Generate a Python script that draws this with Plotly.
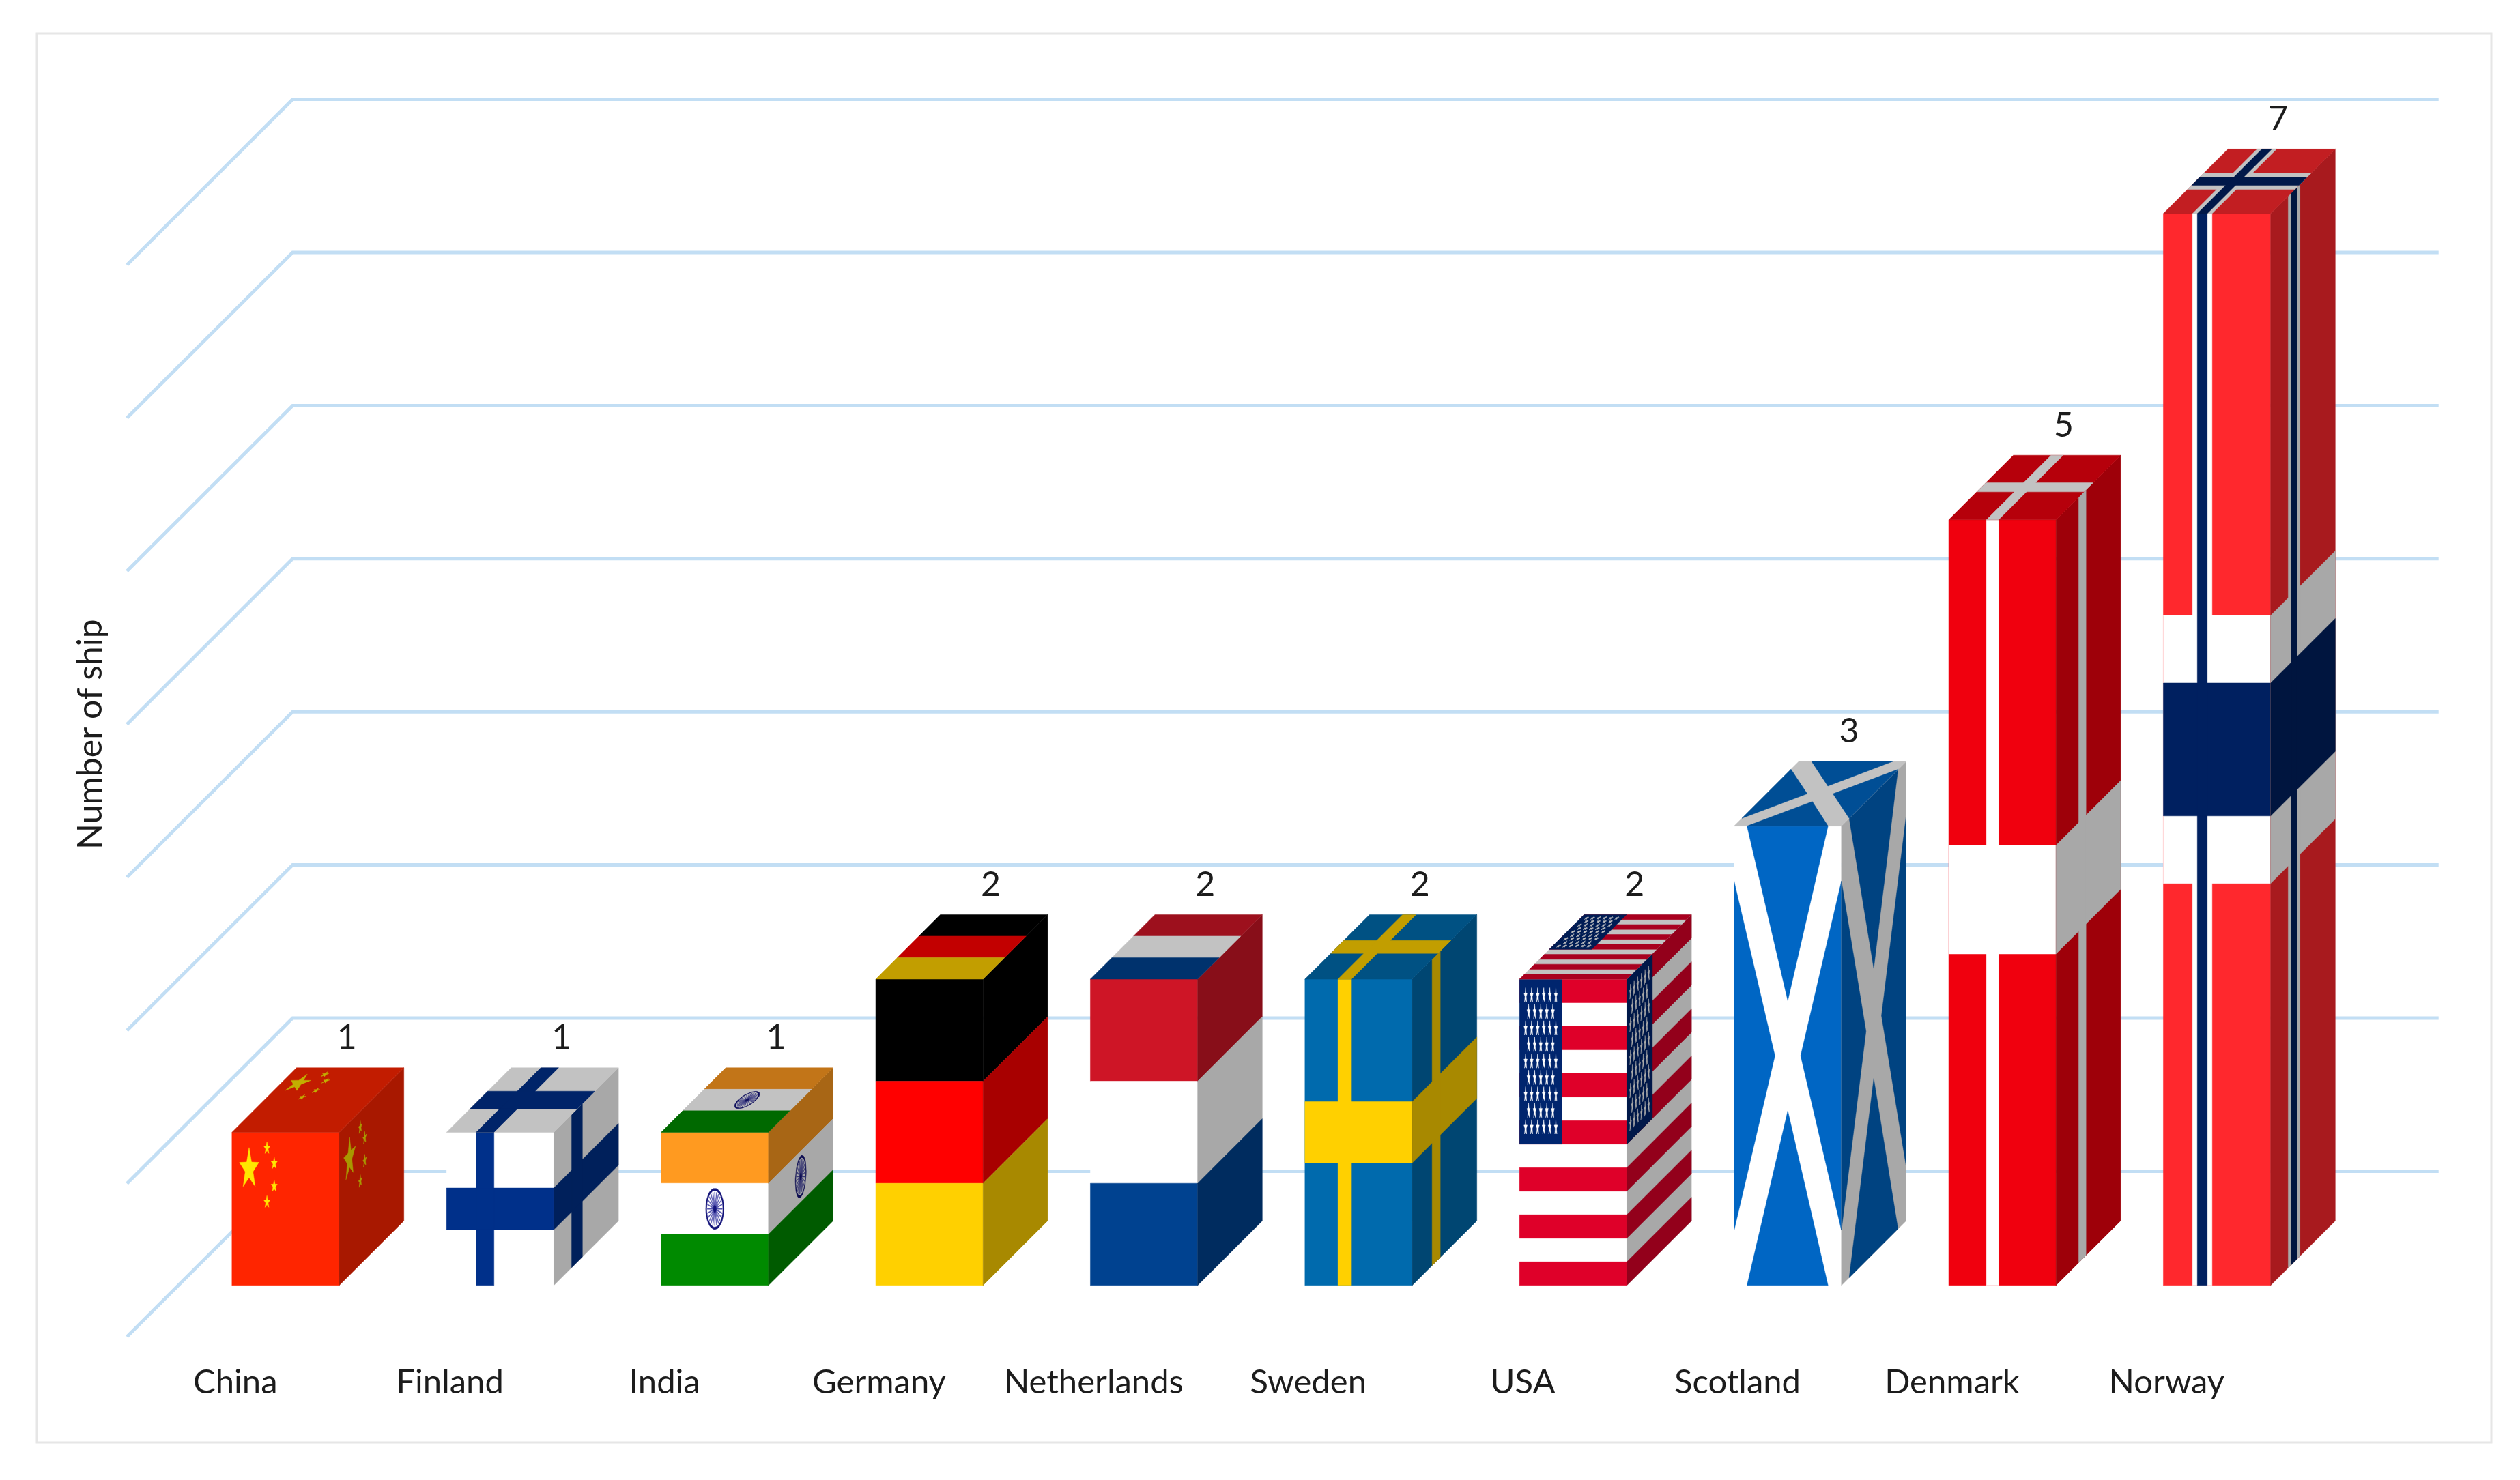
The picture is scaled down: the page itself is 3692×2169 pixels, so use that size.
#!/usr/bin/env python3
"""Ships per country as oblique 3D columns wearing the country flags."""

from __future__ import annotations

import math

import plotly.graph_objects as go

countries = ["China", "Finland", "India", "Germany", "Netherlands", "Sweden", "USA", "Scotland", "Denmark", "Norway"]
ships = [1, 1, 1, 2, 2, 2, 2, 3, 5, 7]
grid_values = [0, 1, 2, 3, 4, 5, 6, 7]

PAGE_MARGIN = 8  # the page body keeps its default margin
W, H = 3692 - 2 * PAGE_MARGIN, 2169 - 2 * PAGE_MARGIN
PX_X, PX_Y = 314.4, 224.4  # pixels per category / per ship
ORIGIN_X, ORIGIN_Y = 186 - PAGE_MARGIN, 1959 - PAGE_MARGIN
DEPTH_X, DEPTH_Y = 0.772, 1.081  # floor depth in axis units
BAR_W, BAR_D0, BAR_D1 = 0.5, 0.31, 0.70
SIDE_SHADE, TOP_SHADE = 0.66, 0.76
TEXT = "#1c1c1c"
FONT = "Lato"


def rect(u0, w0, u1, w1):
    return [(u0, w0), (u1, w0), (u1, w1), (u0, w1)]


def star(cu, cw, ru, rw):
    pts = []
    for k in range(10):
        r = 1 if k % 2 == 0 else 0.4
        a = math.pi / 2 + k * math.pi / 5
        pts.append((cu + ru * r * math.cos(a), cw + rw * r * math.sin(a)))
    return pts


def ellipse(cu, cw, ru, rw, n=40):
    return [(cu + ru * math.cos(2 * math.pi * k / n), cw + rw * math.sin(2 * math.pi * k / n)) for k in range(n)]


def full(color):
    return (color, [rect(0, 0, 1, 1)])


def nordic(bg, cross, x0, x1, y0, y1):
    return [full(bg), (cross, [rect(x0, 0, x1, 1), rect(0, y0, 1, y1)])]


def tricolour(top, mid, bottom):
    return [
        (top, [rect(0, 2 / 3, 1, 1)]),
        (mid, [rect(0, 1 / 3, 1, 2 / 3)]),
        (bottom, [rect(0, 0, 1, 1 / 3)]),
    ]


def usa_flag():
    stripes = 13
    reds = [rect(0, k / stripes, 1, (k + 1) / stripes) for k in range(0, stripes, 2)]
    stars = []
    canton_w, canton_h = 0.395, 7 / stripes
    for row in range(9):
        cols = 6 if row % 2 == 0 else 5
        for col in range(cols):
            cu = canton_w * (col + (1 if row % 2 == 0 else 1.5)) / 7
            cw = 1 - canton_h * (row + 1) / 10
            stars.append(star(cu, cw, 0.016, 0.026))
    return [
        full("#FFFFFF"),
        ("#DF0029", reds),
        ("#00256E", [rect(0, 1 - canton_h, canton_w, 1)]),
        ("#FFFFFF", stars),
    ]


def india_flag():
    spokes = []
    for k in range(12):
        a = k * math.pi / 12
        c, s = math.cos(a), math.sin(a)
        spokes.append([
            (0.5 + 0.07 * c + 0.0025 * s, 0.5 + 0.11 * s - 0.003 * c),
            (0.5 + 0.07 * c - 0.0025 * s, 0.5 + 0.11 * s + 0.003 * c),
            (0.5 - 0.07 * c - 0.0025 * s, 0.5 - 0.11 * s + 0.003 * c),
            (0.5 - 0.07 * c + 0.0025 * s, 0.5 - 0.11 * s - 0.003 * c),
        ])
    return tricolour("#FF9A20", "#FFFFFF", "#008A00") + [
        ("#14147A", [ellipse(0.5, 0.5, 0.085, 0.135)]),
        ("#FFFFFF", [ellipse(0.5, 0.5, 0.072, 0.118)]),
        ("#5555AE", spokes),
        ("#14147A", [ellipse(0.5, 0.5, 0.014, 0.024)]),
    ]


flags = {
    "China": [
        full("#FF2500"),
        ("#FFE600", [
            star(0.16, 0.76, 0.095, 0.14),
            star(0.326, 0.896, 0.03, 0.042),
            star(0.394, 0.797, 0.03, 0.042),
            star(0.394, 0.648, 0.03, 0.042),
            star(0.326, 0.544, 0.03, 0.042),
        ]),
    ],
    "Finland": nordic("#FFFFFF", "#00308A", 0.276, 0.442, 0.364, 0.636),
    "India": india_flag(),
    "Germany": tricolour("#000000", "#FF0000", "#FFD000"),
    "Netherlands": tricolour("#CE1526", "#FFFFFF", "#004290"),
    "Sweden": nordic("#006AAD", "#FFD000", 0.308, 0.434, 0.40, 0.60),
    "USA": usa_flag(),
    "Scotland": [
        full("#FFFFFF"),
        ("#0066C4", [
            [(0.12, 1), (0.875, 1), (0.5, 0.62)],
            [(0.12, 0), (0.875, 0), (0.5, 0.38)],
            [(0, 0.88), (0, 0.12), (0.38, 0.5)],
            [(1, 0.88), (1, 0.12), (0.62, 0.5)],
        ]),
    ],
    "Denmark": nordic("#F0000E", "#FFFFFF", 0.351, 0.464, 0.433, 0.575),
    "Norway": nordic("#FF282D", "#FFFFFF", 0.272, 0.454, 0.375, 0.625)
    + [("#002060", [rect(0.317, 0, 0.409, 1), rect(0, 0.438, 1, 0.562)])],
}


def shade(color, factor):
    r, g, b = (int(color[k:k + 2], 16) for k in (1, 3, 5))
    return f"rgb({r * factor:.0f},{g * factor:.0f},{b * factor:.0f})"


def project(x, depth, y):
    return x + depth * DEPTH_X, y + depth * DEPTH_Y


def face_point(face, index, value, u, w):
    x0 = index + (1 - BAR_W) / 2
    d_span = BAR_D1 - BAR_D0
    if face == "front":
        return project(x0 + u * BAR_W, BAR_D0, w * value)
    if face == "side":
        return project(x0 + BAR_W, BAR_D0 + u * d_span, w * value)
    return project(x0 + u * BAR_W, BAR_D0 + w * d_span, value)


fig = go.Figure()

for v in grid_values:
    back_x, back_y = project(0, 1, v)
    end_x, end_y = project(len(countries), 1, v)
    fig.add_trace(go.Scatter(
        x=[0, back_x, end_x], y=[v, back_y, end_y], mode="lines",
        line={"color": "#C2DEF4", "width": 5}, hoverinfo="skip",
    ))

for index, (country, value) in enumerate(zip(countries, ships)):
    for face, factor in (("front", 1), ("side", SIDE_SHADE), ("top", TOP_SHADE)):
        for color, polys in flags[country]:
            xs, ys = [], []
            for poly in polys:
                pts = [face_point(face, index, value, u, w) for u, w in poly]
                pts.append(pts[0])
                xs += [p[0] for p in pts] + [None]
                ys += [p[1] for p in pts] + [None]
            paint = shade(color, factor)
            fig.add_trace(go.Scatter(
                x=xs, y=ys, mode="lines", fill="toself", fillcolor=paint,
                line={"color": paint, "width": 0.5}, hoverinfo="skip",
            ))

# category names sit under the front edge of the floor
fig.add_trace(go.Scatter(
    x=[k + 0.505 for k in range(len(countries))], y=[-0.315] * len(countries),
    mode="text", text=countries, textposition="middle center",
    textfont={"family": FONT, "size": 49, "color": TEXT}, hoverinfo="skip",
))

label_points = [project(k + 0.5, 0.68, v + 0.2) for k, v in enumerate(ships)]
fig.add_trace(go.Scatter(
    x=[p[0] for p in label_points], y=[p[1] for p in label_points],
    mode="text", text=[str(v) for v in ships], textposition="middle center",
    textfont={"family": FONT, "size": 50, "color": TEXT}, hoverinfo="skip",
))


def paper_x(px):
    return (px - PAGE_MARGIN) / W


def paper_y(px):
    return 1 - (px - PAGE_MARGIN) / H


fig.update_layout(
    width=W,
    height=H,
    margin={"l": 0, "r": 0, "t": 0, "b": 0},
    paper_bgcolor="white",
    plot_bgcolor="white",
    showlegend=False,
    xaxis={"visible": False, "range": [-ORIGIN_X / PX_X, (W - ORIGIN_X) / PX_X]},
    yaxis={"visible": False, "range": [-(H - ORIGIN_Y) / PX_Y, ORIGIN_Y / PX_Y]},
    shapes=[{
        "type": "rect", "xref": "paper", "yref": "paper",
        "x0": paper_x(54), "x1": paper_x(3650), "y0": paper_y(2114), "y1": paper_y(49),
        "line": {"color": "#E6E6E6", "width": 3},
    }],
    annotations=[{
        "text": "Number of ship", "textangle": -90, "showarrow": False,
        "xref": "paper", "yref": "paper", "x": paper_x(130), "y": paper_y(1076),
        "xanchor": "center", "yanchor": "middle",
        "font": {"family": FONT, "size": 50, "color": TEXT},
    }],
)

fig.write_html("out.html")
